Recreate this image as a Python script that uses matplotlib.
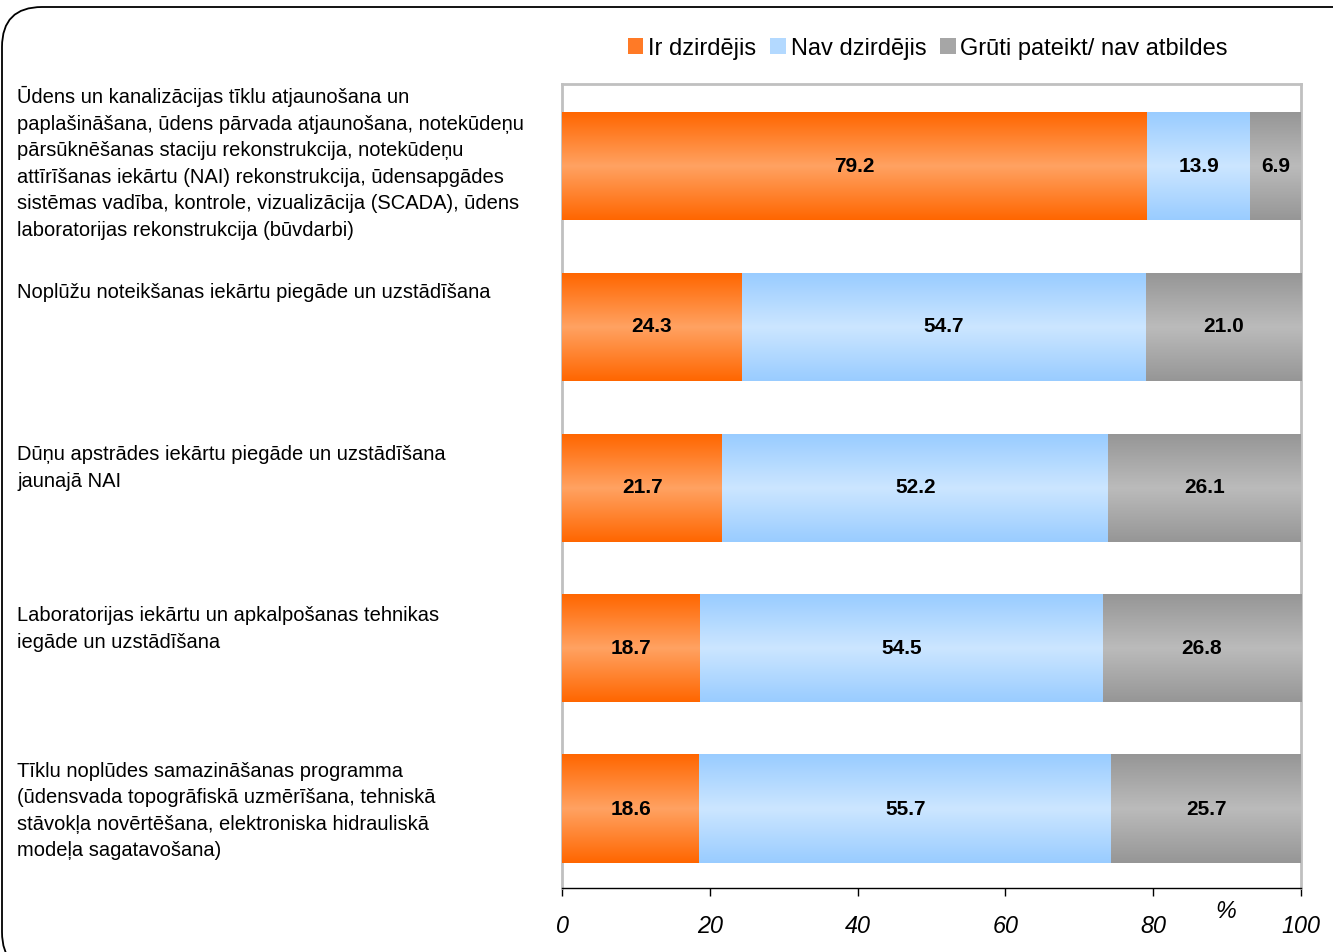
import numpy as np
import matplotlib
matplotlib.use("Agg")
import matplotlib.pyplot as plt
from matplotlib.colors import LinearSegmentedColormap
from matplotlib.patches import FancyBboxPatch, Patch

plt.rcParams['font.family'] = ['Liberation Sans', 'DejaVu Sans']

categories = [
    "Ūdens un kanalizācijas tīklu atjaunošana un\npaplašināšana, ūdens pārvada atjaunošana, notekūdeņu\npārsūknēšanas staciju rekonstrukcija, notekūdeņu\nattīrīšanas iekārtu (NAI) rekonstrukcija, ūdensapgādes\nsistēmas vadība, kontrole, vizualizācija (SCADA), ūdens\nlaboratorijas rekonstrukcija (būvdarbi)",
    "Noplūžu noteikšanas iekārtu piegāde un uzstādīšana",
    "Dūņu apstrādes iekārtu piegāde un uzstādīšana\njaunajā NAI",
    "Laboratorijas iekārtu un apkalpošanas tehnikas\niegāde un uzstādīšana",
    "Tīklu noplūdes samazināšanas programma\n(ūdensvada topogrāfiskā uzmērīšana, tehniskā\nstāvokļa novērtēšana, elektroniska hidrauliskā\nmodeļa sagatavošana)",
]
series_names = ["Ir dzirdējis", "Nav dzirdējis", "Grūti pateikt/ nav atbildes"]
ir = [79.2, 24.3, 21.7, 18.7, 18.6]
nav = [13.9, 54.7, 52.2, 54.5, 55.7]
gruti = [6.9, 21.0, 26.1, 26.8, 25.7]
xticks = [0, 20, 40, 60, 80, 100]

edge_cols = ["#FF6600", "#99CCFF", "#969696"]
mid_cols = ["#FFA262", "#CCE6FF", "#BBBBBB"]

W, H = 1333, 952
fig = plt.figure(figsize=(W / 100, H / 100), dpi=100)

# rounded outer frame
frame = FancyBboxPatch((2 / W, -20 / H), 1400 / W, (H - 7 + 20) / H,
                       boxstyle="round,pad=0,rounding_size=0.03",
                       transform=fig.transFigure, fill=False,
                       edgecolor="black", linewidth=1.3, clip_on=False,
                       mutation_aspect=W / H)
fig.patches.append(frame)

ax = fig.add_axes([562 / W, 1 - 888 / H, 739 / W, 804 / H])
y = np.arange(len(categories))
bar_h = 108 / 160.8

lefts = np.zeros(len(categories))
for vals, ec, mc in zip([ir, nav, gruti], edge_cols, mid_cols):
    bars = ax.barh(y, vals, left=lefts, height=bar_h, color=ec, edgecolor="none", zorder=2)
    cmap = LinearSegmentedColormap.from_list("g", [ec, mc, ec])
    grad = np.linspace(0, 1, 256).reshape(-1, 1)
    for b, v in zip(bars, vals):
        x0, y0 = b.get_x(), b.get_y()
        w, h = b.get_width(), b.get_height()
        ax.imshow(grad, cmap=cmap, aspect="auto", extent=(x0, x0 + w, y0 + h, y0),
                  zorder=3, interpolation="bilinear")
        ax.text(x0 + w / 2, y0 + h / 2, f"{v:.1f}", ha="center", va="center",
                fontsize=15, fontweight="bold", color="black", zorder=4)
    lefts = lefts + np.array(vals)

ax.set_xlim(0, 100)
ax.set_ylim(len(categories) - 0.5 - 0.01, -0.5 - 0.01)
ax.set_yticks([])
ax.set_xticks(xticks)
ax.set_xticklabels([str(t) for t in xticks], fontsize=16.8, fontstyle="italic")
ax.tick_params(axis="x", direction="out", length=6, width=1, pad=13.5, colors="black")
for s in ["top", "left", "right"]:
    ax.spines[s].set_color("#C0C0C0")
    ax.spines[s].set_linewidth(2)
ax.spines["bottom"].set_color("black")
ax.spines["bottom"].set_linewidth(1)

# category labels
label_centers = [163, 293, 468, 629, 811]
for lab, yc in zip(categories, label_centers):
    fig.text(17 / W, 1 - yc / H, lab, ha="left", va="center", fontsize=14.5,
             linespacing=1.5, color="black")

fig.text(1226 / W, 1 - 912 / H, "%", ha="center", va="center", fontsize=16.8,
         fontstyle="italic")

handles = [Patch(facecolor=c, edgecolor="none") for c in ["#FF7A26", "#B3D9FF", "#A6A6A6"]]
fig.legend(handles, series_names, loc="center", bbox_to_anchor=(928 / W, 1 - 48.5 / H),
           ncol=3, frameon=False, fontsize=17, handlelength=0.65, handleheight=0.65,
           handletextpad=0.2, columnspacing=0.6)

fig.savefig("out.png", dpi=100)
